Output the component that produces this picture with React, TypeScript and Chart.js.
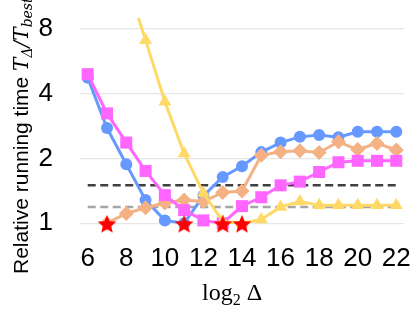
import { useEffect, useRef } from "react";
import { Chart, registerables } from "chart.js";

Chart.register(...registerables);

// ---- data ----
const log2Delta = [6, 7, 8, 9, 10, 11, 12, 13, 14, 15, 16, 17, 18, 19, 20, 21, 22];
const xTickValues = [6, 8, 10, 12, 14, 16, 18, 20, 22];
const yTickValues = [1, 2, 4, 8];

const blueSeries = [4.75, 2.77, 1.88, 1.28, 1.03, 1.0, 1.34, 1.64, 1.84, 2.14, 2.37, 2.52, 2.57, 2.51, 2.66, 2.66, 2.66];
const magentaSeries = [4.93, 3.24, 2.37, 1.75, 1.35, 1.15, 1.03, 1.0, 1.2, 1.32, 1.5, 1.56, 1.73, 1.92, 1.95, 1.95, 1.95];
const orangeSeries = [null, 1.0, 1.11, 1.18, 1.24, 1.28, 1.26, 1.39, 1.41, 2.07, 2.15, 2.17, 2.13, 2.39, 2.2, 2.35, 2.19];
const yellowSeries = [null, null, 13.5, 7.1, 3.67, 2.11, 1.38, 1.02, 1.0, 1.04, 1.19, 1.26, 1.21, 1.21, 1.21, 1.21, 1.21];
const bestSeries = [null, 1, null, null, null, 1, null, 1, 1, null, null, null, null, null, null, null, null];

const refSpan = [6, 22];
const darkRefLevel = 1.5;
const lightRefLevel = 1.19;

function toPoints(values: (number | null)[]) {
  return log2Delta.map((x, i) => ({ x, y: values[i] }));
}

function makeStar(): HTMLCanvasElement {
  const c = document.createElement("canvas");
  c.width = 24;
  c.height = 24;
  const g = c.getContext("2d")!;
  const cx = 12, cy = 13.6, R = 9.8, r = R * 0.45;
  g.beginPath();
  for (let i = 0; i < 10; i++) {
    const a = -Math.PI / 2 + (i * Math.PI) / 5;
    const rad = i % 2 ? r : R;
    g.lineTo(cx + rad * Math.cos(a), cy + rad * Math.sin(a));
  }
  g.closePath();
  g.fillStyle = "#FF0000";
  g.fill();
  return c;
}

type Run = { text: string; font: string; dy: number };

function drawRuns(ctx: CanvasRenderingContext2D, runs: Run[]) {
  let x = 0;
  for (const r of runs) {
    ctx.font = r.font;
    ctx.fillText(r.text, x, r.dy);
    x += ctx.measureText(r.text).width;
  }
}

const titlePlugin = {
  id: "customTitles",
  afterDraw(chart: any) {
    const ctx: CanvasRenderingContext2D = chart.ctx;
    ctx.save();
    ctx.fillStyle = "#000";
    ctx.textAlign = "left";
    ctx.textBaseline = "alphabetic";
    // x title
    ctx.save();
    ctx.translate(202, 300);
    drawRuns(ctx, [
      { text: "log", font: '24px "Liberation Serif"', dy: 0 },
      { text: "2", font: '16px "Liberation Serif"', dy: 5 },
      { text: " Δ", font: '24px "Liberation Serif"', dy: 0 },
    ]);
    ctx.restore();
    // y title
    ctx.save();
    ctx.translate(27.5, 274);
    ctx.rotate(-Math.PI / 2);
    drawRuns(ctx, [
      { text: "Relative running time ", font: '21px "Liberation Sans"', dy: 0 },
      { text: "T", font: 'italic 20px "DejaVu Serif"', dy: 0 },
      { text: "Δ", font: 'italic 14px "DejaVu Serif"', dy: 4 },
      { text: "/", font: 'italic 20px "DejaVu Serif"', dy: 0 },
      { text: "T", font: 'italic 20px "DejaVu Serif"', dy: 0 },
      { text: "best", font: 'italic 14px "DejaVu Serif"', dy: 4 },
    ]);
    ctx.restore();
    ctx.restore();
  },
};

export default function App() {
  const ref = useRef<HTMLCanvasElement>(null);
  useEffect(() => {
    if (!ref.current) return;
    const star = makeStar();
    const lineDs = (label: string, values: (number | null)[], color: string, style: any, radius: number) => ({
      label,
      data: toPoints(values),
      borderColor: color,
      backgroundColor: color,
      pointBackgroundColor: color,
      pointBorderColor: color,
      pointBorderWidth: 0,
      borderWidth: 3,
      pointStyle: style,
      pointRadius: radius,
      tension: 0,
    });
    const chart = new Chart(ref.current, {
      type: "line",
      data: {
        datasets: [
          {
            label: "best",
            data: toPoints(bestSeries),
            showLine: false,
            pointStyle: star as any,
            pointRadius: 10,
            borderColor: "#FF0000",
            backgroundColor: "#FF0000",
          } as any,
          lineDs("yellow", yellowSeries, "#FFD966", "triangle", 7.5),
          lineDs("magenta", magentaSeries, "#FF66FF", "rect", 8.5),
          lineDs("orange", orangeSeries, "#F4B183", "rectRot", 7.5),
          lineDs("blue", blueSeries, "#6699FF", "circle", 6),
          {
            label: "dark ref",
            data: refSpan.map((x) => ({ x, y: darkRefLevel })),
            borderColor: "#404040",
            borderWidth: 2.5,
            borderDash: [8, 4.5],
            pointRadius: 0,
          },
          {
            label: "light ref",
            data: refSpan.map((x) => ({ x, y: lightRefLevel })),
            borderColor: "#A6A6A6",
            borderWidth: 2.5,
            borderDash: [8, 4.5],
            pointRadius: 0,
          },
        ],
      },
      options: {
        responsive: false,
        animation: false,
        layout: { padding: { left: 0, right: 10, top: 18, bottom: 0 } },
        plugins: { legend: { display: false }, tooltip: { enabled: false } },
        scales: {
          x: {
            type: "linear",
            min: 5.6,
            max: 22.4,
            afterBuildTicks: (s: any) => {
              s.ticks = xTickValues.map((v) => ({ value: v }));
            },
            afterFit: (s: any) => {
              s.height = 79;
              s.paddingLeft = 0;
              s.paddingRight = 0;
            },
            grid: { display: false, drawTicks: false },
            border: { display: false },
            ticks: {
              color: "#000",
              font: { family: '"Liberation Sans", Arial', size: 26 },
              padding: 10,
              maxRotation: 0,
              autoSkip: false,
              callback: (v: any) => String(v),
            },
          },
          y: {
            type: "logarithmic",
            min: 0.9,
            max: 9,
            afterBuildTicks: (s: any) => {
              s.ticks = yTickValues.map((v) => ({ value: v }));
            },
            afterFit: (s: any) => {
              s.width = 80;
              s.paddingTop = 0;
              s.paddingBottom = 0;
            },
            grid: { color: "#E6E6E6", lineWidth: 1.2, drawTicks: false },
            border: { display: false },
            ticks: {
              color: "#000",
              font: { family: '"Liberation Sans", Arial', size: 26 },
              padding: 27,
              callback: (v: any) => String(v),
            },
          },
        },
      },
      plugins: [titlePlugin],
    });
    return () => chart.destroy();
  }, []);
  return (
    <div style={{ position: "absolute", left: 0, top: 0, width: 415, height: 312 }}>
      <canvas ref={ref} width={415} height={312} />
    </div>
  );
}
